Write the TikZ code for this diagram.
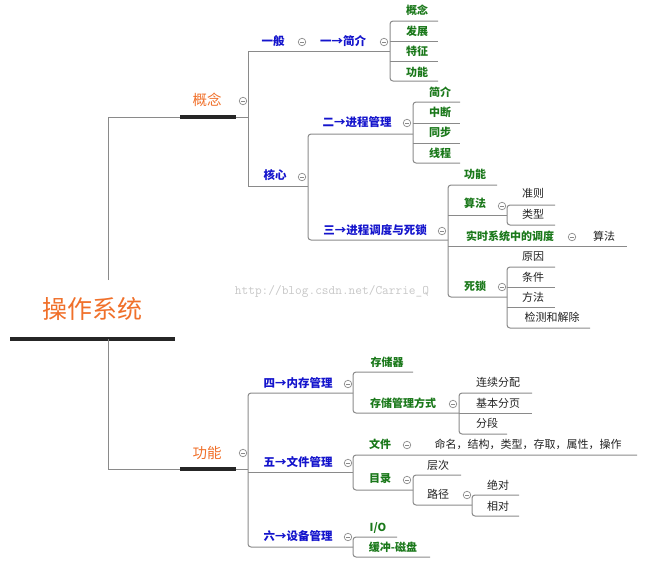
\documentclass[tikz,border=0pt]{standalone}
\usepackage{fontspec}
\setmainfont{Noto Sans CJK SC}
\definecolor{orangeT}{HTML}{F0702A}
\definecolor{blueT}{HTML}{1414CC}
\definecolor{greenT}{HTML}{1A781A}
\definecolor{lineC}{HTML}{8A8A8A}
\definecolor{thickC}{HTML}{262626}
\definecolor{leafT}{HTML}{222222}
\tikzset{
 txt/.style={inner sep=0pt, anchor=center},
 lone/.style={txt, font=\fontsize{11}{12}\selectfont, text=leafT},
 lgreen/.style={txt, font=\bfseries\fontsize{11}{12}\selectfont, text=greenT},
 lblue/.style={txt, font=\bfseries\fontsize{11.5}{12}\selectfont, text=blueT},
 lorange/.style={txt, font=\fontsize{14.5}{15}\selectfont, text=orangeT},
 conn/.style={draw=lineC, line width=1pt},
 branch/.style={conn, rounded corners=3pt},
 heavy/.style={draw=thickC, line width=3.5pt},
 fold/.style={circle, draw=lineC, fill=white, line width=0.7pt, minimum size=7.5pt, inner sep=0pt,
   path picture={\draw[lineC, line width=0.6pt] ([xshift=-2pt]path picture bounding box.center) -- ([xshift=2pt]path picture bounding box.center);}},
}
\begin{document}
\begin{tikzpicture}[x=1pt,y=-1pt]
\useasboundingbox (0,0) rectangle (650,566);
% watermark
\node[txt, font=\ttfamily\fontsize{13}{14}\selectfont, text=black!22] (wm) at (332,291) {http://blog.csdn.net/Carrie\_Q};

% ---------- root ----------
\node[txt, font=\fontsize{25}{26}\selectfont, text=orangeT] (root) at (92,309) {操作系统};
\coordinate (rootL) at (10,339);
\coordinate (rootR) at (175,339);
\coordinate (rootTop) at (108,280);
\coordinate (rootBot) at (108,339);
\draw[heavy] (rootL) -- (rootR);

% ---------- 概念 ----------
\node[lorange] (gn) at (207,100) {概念};
\node[fold] (gnF) at (243,101) {};
\coordinate (gnA) at (180,117);
\coordinate (gnB) at (236,117);
\draw[conn] (rootTop) -- (108,117) -- (gnA);
\draw[heavy] (gnA) -- (gnB);
\draw[conn] (gnB) -- (248,117);
\draw[conn] (390,51) -- (248,51) -- (248,186) -- (308,186);

\node[lblue] (yb) at (273,41) {一般};
\node[fold] (ybF) at (302,42) {};
\node[lblue] (jj) at (343,41) {一→简介};
\node[fold] (jjF) at (384,42) {};
\draw[branch] (438,21) -- (390,21) -- (390,81) -- (438,81);
\draw[conn] (390,41) -- (438,41);
\draw[conn] (390,61) -- (438,61);
\node[lgreen] (a1) at (417,10) {概念};
\node[lgreen] (a2) at (417,31) {发展};
\node[lgreen] (a3) at (417,51) {特征};
\node[lgreen] (a4) at (417,72) {功能};

\node[lblue] (hx) at (275,175) {核心};
\node[fold] (hxF) at (302,177) {};
\draw[branch] (413,134) -- (308,134) -- (308,240) -- (448,240);

\node[lblue] (jc) at (357,122) {二→进程管理};
\node[fold] (jcF) at (407,123) {};
\draw[branch] (460,102) -- (413,102) -- (413,163) -- (460,163);
\draw[conn] (413,123) -- (460,123);
\draw[conn] (413,143) -- (460,143);
\node[lgreen] (b1) at (440,92) {简介};
\node[lgreen] (b2) at (440,112) {中断};
\node[lgreen] (b3) at (440,132) {同步};
\node[lgreen] (b4) at (440,153) {线程};

\node[lblue] (dd) at (375,230) {三→进程调度与死锁};
\node[fold] (ddF) at (442,231) {};
\draw[branch] (497,185) -- (448,185) -- (448,297) -- (507,297);
\draw[conn] (448,215) -- (507,215);
\draw[conn] (448,246) -- (627,246);
\node[lgreen] (c1) at (475,174) {功能};
\node[lgreen] (c2) at (475,203) {算法};
\node[fold] (c2F) at (502,206) {};
\node[lgreen] (c3) at (510,236) {实时系统中的调度};
\node[fold] (c3F) at (572,237) {};
\node[lone] (c3a) at (604,236) {算法};
\node[lgreen] (c4) at (475,286) {死锁};
\node[fold] (c4F) at (502,287) {};
\draw[branch] (555,205) -- (507,205) -- (507,225) -- (555,225);
\node[lone] (c2a) at (533,193) {准则};
\node[lone] (c2b) at (533,214) {类型};
\draw[branch] (555,267) -- (507,267) -- (507,328) -- (590,328);
\draw[conn] (507,287) -- (555,287);
\draw[conn] (507,307) -- (555,307);
\node[lone] (c4a) at (533,257) {原因};
\node[lone] (c4b) at (533,277) {条件};
\node[lone] (c4c) at (533,297) {方法};
\node[lone] (c4d) at (552,317) {检测和解除};

% ---------- 功能 ----------
\node[lorange] (gl) at (207,453) {功能};
\node[fold] (glF) at (243,453) {};
\coordinate (glA) at (180,469);
\coordinate (glB) at (236,469);
\draw[conn] (rootBot) -- (108,469) -- (glA);
\draw[heavy] (glA) -- (glB);
\draw[conn] (glB) -- (248,469);
\draw[branch] (353,393) -- (248,393) -- (248,547) -- (353,547);
\draw[conn] (248,472) -- (353,472);

\node[lblue] (nc) at (298,383) {四→内存管理};
\node[fold] (ncF) at (348,384) {};
\draw[branch] (413,372) -- (353,372) -- (353,413) -- (459,413);
\node[lgreen] (d1) at (387,362) {存储器};
\node[lgreen] (d2) at (403,403) {存储管理方式};
\node[fold] (d2F) at (453,404) {};
\draw[branch] (532,393) -- (459,393) -- (459,434) -- (507,434);
\draw[conn] (459,413) -- (532,413);
\node[lone] (d2a) at (498,382) {连续分配};
\node[lone] (d2b) at (498,403) {基本分页};
\node[lone] (d2c) at (487,423) {分段};

\node[lblue] (wj) at (298,462) {五→文件管理};
\node[fold] (wjF) at (348,463) {};
\draw[branch] (637,455) -- (353,455) -- (353,490) -- (413,490);
\node[lgreen] (e1) at (380,444) {文件};
\node[fold] (e1F) at (407,445) {};
\node[lone] (e1a) at (528,444) {命名，结构，类型，存取，属性，操作};
\node[lgreen] (e2) at (380,479) {目录};
\node[fold] (e2F) at (407,480) {};
\draw[branch] (461,475) -- (413,475) -- (413,505) -- (472,505);
\node[lone] (e2a) at (438,465) {层次};
\node[lone] (e2b) at (438,494) {路径};
\node[fold] (e2bF) at (467,495) {};
\draw[branch] (519,495) -- (472,495) -- (472,516) -- (519,516);
\node[lone] (e2b1) at (498,485) {绝对};
\node[lone] (e2b2) at (498,506) {相对};

\node[lblue] (sb) at (298,536) {六→设备管理};
\node[fold] (sbF) at (348,537) {};
\draw[branch] (397,537) -- (353,537) -- (353,557) -- (430,557);
\node[lgreen] (f1) at (378,528) {I/O};
\node[lgreen] (f2) at (393,547) {缓冲-磁盘};
\end{tikzpicture}
\end{document}
